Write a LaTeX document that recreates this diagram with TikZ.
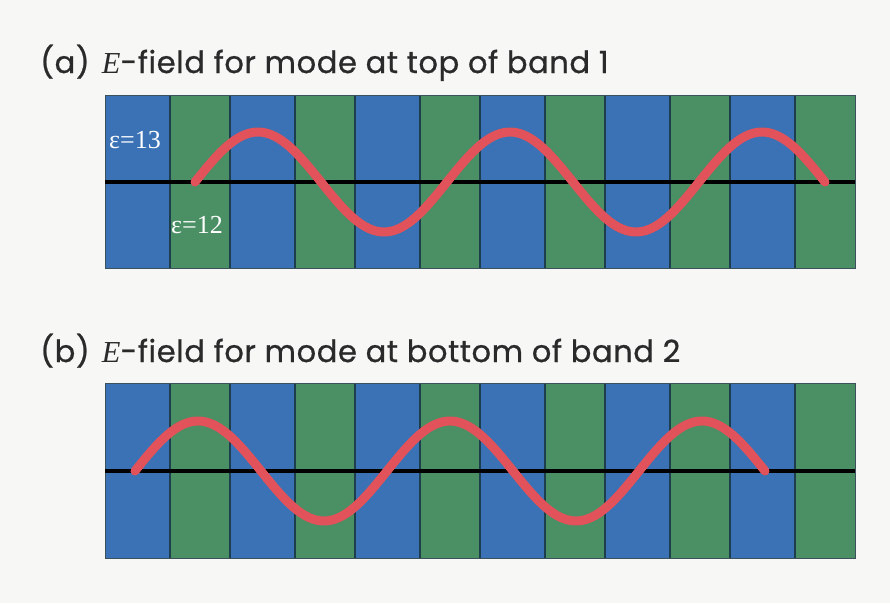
\documentclass[tikz,border=0pt]{standalone}
\usepackage{fontspec}
\setsansfont{Poppins}[LetterSpace=2,FakeBold=0.8]
\newfontfamily\serifsym{Liberation Serif}
\usepackage{tikz}
\usetikzlibrary{positioning}
\definecolor{paper}{HTML}{F7F7F5}
\definecolor{slab}{HTML}{3A72B5}
\definecolor{gap}{HTML}{4B8F65}
\definecolor{edge}{HTML}{1D3E4C}
\definecolor{field}{HTML}{E1525A}
\definecolor{caption}{HTML}{2A2A2A}

\begin{document}
\begin{tikzpicture}[x=1pt,y=-1pt]
  \useasboundingbox[fill=paper] (0,0) rectangle (890,603);
  % captions
  \node[font=\sffamily\fontsize{30.5}{32}\selectfont,text=caption,anchor=base west,inner sep=0] (capA) at (40,73)
     {(a)\hspace{0.4em}{\serifsym\itshape E}-field for mode at top of band 1};
  \node[font=\sffamily\fontsize{30.5}{32}\selectfont,text=caption,anchor=base west,inner sep=0] (capB) at (40,362)
     {(b)\hspace{0.4em}{\serifsym\itshape E}-field for mode at bottom of band 2};
  % crystals: blue eps=13 slabs, green eps=12 slabs
  \foreach \t/\b/\m/\s in {95/268/182/195,383/558/471/135}{
     \foreach \k in {0,...,5}{
        \fill[slab] (105+125*\k,\t) rectangle (170+125*\k,\b);
        \fill[gap] (170+125*\k,\t) rectangle (230+125*\k,\b);}
     \foreach \v in {170,230,295,355,420,480,545,605,670,730,795}{\draw[edge,line width=1.3pt] (\v,\t) -- (\v,\b);}
     \draw[edge!70!gray,line width=1pt] (105,\t) rectangle (855,\b);
     \draw[black,line width=4.5pt] (105,\m) -- (855,\m);
     % field
     \draw[field,line width=9pt,line cap=round] plot[domain=0:630,samples=160] ({\s+\x},{\m-50*sin(\x/252*360)});}
  \node[font=\serifsym\fontsize{26}{28}\selectfont,text=white] (epsHi) at (135,140) {ε=13};
  \node[font=\serifsym\fontsize{26}{28}\selectfont,text=white] (epsLo) at (197,225) {ε=12};
\end{tikzpicture}
\end{document}
